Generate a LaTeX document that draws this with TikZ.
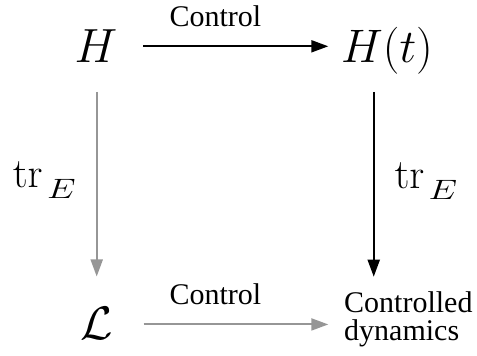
\documentclass[tikz,border=0pt]{standalone}
\usepackage{fix-cm}
\usepackage{graphicx}
\usepackage[no-math]{fontspec}
\IfFontExistsTF{Liberation Serif}{\setmainfont{Liberation Serif}}{\setmainfont{DejaVu Serif}}
\usetikzlibrary{arrows.meta}
\definecolor{arrgray}{RGB}{150,150,150}
\newcommand{\trE}{$\mathrm{tr}$\kern4.5pt\raisebox{-11.6pt}{\scalebox{1.3}[1]{\fontsize{28}{28}\selectfont$E$}}}
\tikzset{
  mathH/.style={inner sep=0pt, font=\fontsize{48}{52}\selectfont},
  mathbig/.style={inner sep=0pt, font=\fontsize{47}{51}\selectfont},
  trlab/.style={inner sep=0pt, font=\fontsize{42}{46}\selectfont},
  txt/.style={inner sep=0pt, font=\rmfamily\fontsize{30}{28}\selectfont},
  arr/.style={line width=2pt, -{Triangle[length=17pt,width=12pt]}},
  blackarr/.style={arr, black},
  grayarr/.style={arr, arrgray},
}
\begin{document}
\begin{tikzpicture}[x=1pt,y=-1pt]
\useasboundingbox (0,0) rectangle (477,356);
\node[mathH, anchor=base west] (H) at (74.4,62.7) {$H$};
\node[mathbig, anchor=base west] (Ht) at (341,62.7) {$H(t)$};
\node[mathbig, anchor=base west] (L) at (80.3,339.5) {$\mathcal{L}$};
\node[txt, anchor=base west] (Ctop) at (169.3,26.7) {Control};
\node[txt, anchor=base west] (Cbot) at (169.3,304) {Control};
\node[txt, anchor=north west, align=left] (CD) at (344,291) {Controlled\\dynamics};
\node[trlab, anchor=base west] (trL) at (12.6,187) {\trE};
\node[trlab, anchor=base west] (trR) at (394.3,188) {\trE};
\draw[blackarr, shorten <=25.7pt, shorten >=12.7pt] (H.east) -- (H.east -| Ht.west);
\draw[grayarr, shorten <=30.6pt, shorten >=15.7pt] ([yshift=-1pt]L.east) -- ([yshift=-1pt]L.east -| CD.west);
\draw[grayarr, shorten <=29pt, shorten >=30.7pt] (H.south -| L.north) -- (L.north);
\draw[blackarr, shorten <=17.2pt, shorten >=14.3pt] ([xshift=-13.3pt]Ht.south) -- ([xshift=-13.3pt]Ht.south |- CD.north);
\end{tikzpicture}
\end{document}
